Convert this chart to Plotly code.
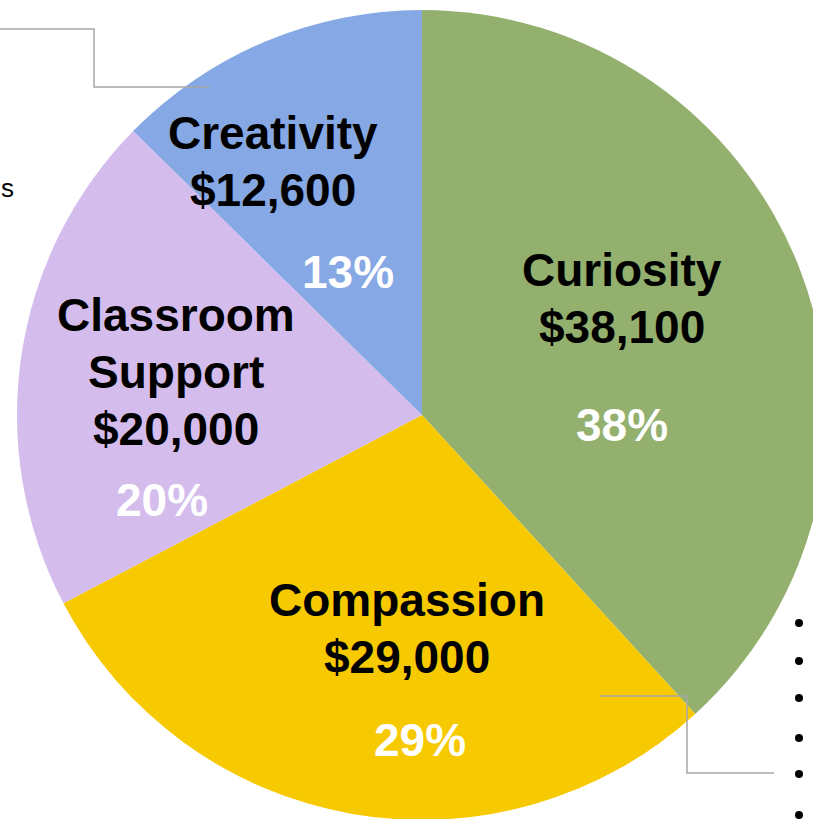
import plotly.graph_objects as go

# ---- data ----
categories = ["Curiosity", "Compassion", "Classroom Support", "Creativity"]
label_lines = [["Curiosity"], ["Compassion"], ["Classroom", "Support"], ["Creativity"]]
amounts = [38100, 29000, 20000, 12600]
colors = ["#93B06E", "#F7C900", "#D4BDEC", "#86A8E4"]

W, H = 850, 850
total = sum(amounts)

def px(x):
    return x / W

def py(y):
    return (H - y) / H

# pie geometry in pixels (centre x, centre y, radius)
cx, cy, r = 422, 415, 405

fig = go.Figure(go.Pie(
    labels=categories,
    values=amounts,
    marker=dict(colors=colors, line=dict(width=0)),
    sort=False,
    direction="clockwise",
    rotation=0,
    textinfo="none",
    hoverinfo="label+value+percent",
    showlegend=False,
    domain=dict(x=[px(cx - r), px(cx + r)], y=[py(cy + r), py(cy - r)]),
))

# label positions (pixels): centre x and first-line centre y; percentage centre
label_pos = [(622, 270), (407, 600), (176, 315), (273, 133)]
pct_pos = [(622, 425), (420, 740), (162, 500), (348, 272)]
line_gap = 57

font_family = "Arial, Liberation Sans, sans-serif"
fsize = 46
annotations = []
for lines, amt, (lx, ly), (qx, qy) in zip(label_lines, amounts, label_pos, pct_pos):
    for i, t in enumerate(lines + [f"${amt:,}"]):
        annotations.append(dict(
            x=px(lx), y=py(ly + i * line_gap), xref="paper", yref="paper",
            text=f"<b>{t}</b>", showarrow=False,
            xanchor="center", yanchor="middle",
            font=dict(family=font_family, size=fsize, color="black"),
        ))
    annotations.append(dict(
        x=px(qx), y=py(qy), xref="paper", yref="paper",
        text=f"<b>{round(100 * amt / total)}%</b>", showarrow=False,
        xanchor="center", yanchor="middle",
        font=dict(family=font_family, size=fsize, color="white"),
    ))

# stray text fragment at left edge
annotations.append(dict(
    x=px(-1), y=py(188), xref="paper", yref="paper", text="s", showarrow=False,
    xanchor="left", yanchor="middle",
    font=dict(family=font_family, size=26, color="black"),
))

line_style = dict(color="#A6A6A6", width=1.5)
shapes = [
    dict(type="path", xref="paper", yref="paper",
         path=f"M {px(0)},{py(29)} L {px(94)},{py(29)} L {px(94)},{py(87)} L {px(209)},{py(87)}",
         line=line_style),
    dict(type="path", xref="paper", yref="paper",
         path=f"M {px(600)},{py(696)} L {px(687)},{py(696)} L {px(687)},{py(773)} L {px(774)},{py(773)}",
         line=line_style),
]
for dy in [623, 661, 698, 738, 774, 815]:
    shapes.append(dict(type="circle", xref="paper", yref="paper",
                       x0=px(795), x1=px(803), y0=py(dy + 4), y1=py(dy - 4),
                       fillcolor="black", line=dict(width=0)))

fig.update_layout(
    width=W, height=H,
    margin=dict(l=0, r=0, t=0, b=0),
    paper_bgcolor="white",
    plot_bgcolor="white",
    annotations=annotations,
    shapes=shapes,
)

fig.write_html(
    "out.html",
    config={"displayModeBar": False},
    post_script="document.body.style.margin='0';document.body.style.overflow='hidden';document.documentElement.style.overflow='hidden';",
)
